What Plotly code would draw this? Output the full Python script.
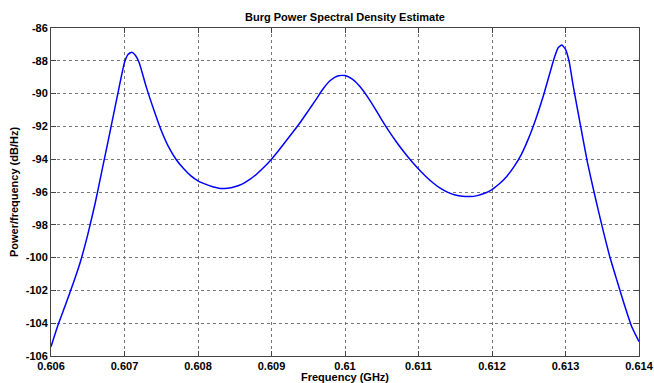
import plotly.graph_objects as go

freq_ghz = [0.6060, 0.6061, 0.6062, 0.6063, 0.6064, 0.6065, 0.6066, 0.6067, 0.6068, 0.6069,
            0.6070, 0.60705, 0.6071, 0.60715, 0.6072, 0.6073, 0.6074, 0.6075, 0.6076, 0.6077,
            0.6078, 0.6079, 0.6080, 0.6081, 0.6082, 0.6083, 0.6084, 0.6085, 0.6086, 0.6087,
            0.6088, 0.6089, 0.6090, 0.6091, 0.6092, 0.6093, 0.6094, 0.6095, 0.6096, 0.6097,
            0.6098, 0.6099, 0.6100, 0.6101, 0.6102, 0.6103, 0.6104, 0.6105, 0.6106, 0.6107,
            0.6108, 0.6109, 0.6110, 0.6111, 0.6112, 0.6113, 0.6114, 0.6115, 0.6116, 0.6117,
            0.6118, 0.6119, 0.6120, 0.6121, 0.6122, 0.6123, 0.6124, 0.6125, 0.6126, 0.6127,
            0.6128, 0.61285, 0.6129, 0.61295, 0.6130, 0.61305, 0.6131, 0.6132, 0.6133, 0.6134,
            0.6135, 0.6136, 0.6137, 0.6138, 0.6139, 0.6140]
psd_db = [-105.43, -104.05, -102.85, -101.6, -100.25, -98.6, -96.7, -94.55, -92.4, -90.2,
          -88.1, -87.6, -87.48, -87.68, -88.12, -89.65, -91.0, -92.25, -93.25, -94.0,
          -94.55, -95.0, -95.32, -95.52, -95.68, -95.78, -95.77, -95.68, -95.52, -95.25,
          -94.9, -94.48, -94.0, -93.45, -92.88, -92.3, -91.7, -91.05, -90.4, -89.72,
          -89.2, -88.93, -88.9, -89.12, -89.55, -90.15, -90.85, -91.6, -92.3, -92.95,
          -93.55, -94.1, -94.6, -95.05, -95.45, -95.78, -96.02, -96.18, -96.26, -96.28,
          -96.22, -96.08, -95.85, -95.5, -95.05, -94.45, -93.7, -92.7, -91.5, -90.12,
          -88.55, -87.78, -87.2, -87.04, -87.3, -88.05, -89.4, -91.85, -94.23, -96.23,
          -98.13, -99.9, -101.4, -102.86, -104.2, -105.12]

x_ticks = [0.606, 0.607, 0.608, 0.609, 0.610, 0.611, 0.612, 0.613, 0.614]
x_tick_labels = ["0.606", "0.607", "0.608", "0.609", "0.61", "0.611", "0.612", "0.613", "0.614"]
y_ticks = list(range(-106, -85, 2))
y_tick_labels = [str(v) for v in y_ticks]

FONT = "Liberation Sans"

fig = go.Figure()
fig.add_trace(go.Scatter(x=freq_ghz, y=psd_db, mode="lines",
                         line=dict(color="#0000ff", width=1.5, shape="spline", smoothing=0.5),
                         showlegend=False))

axis_common = dict(showline=True, linecolor="#444444", linewidth=1, mirror="ticks",
                   ticks="inside", ticklen=5, tickcolor="#444444",
                   showgrid=True, gridcolor="#777777", griddash="dot", gridwidth=1,
                   zeroline=False, automargin=False,
                   tickfont=dict(family=FONT, size=11, color="black", weight="bold"))

fig.update_xaxes(range=[0.606, 0.614], tickvals=x_ticks, ticktext=x_tick_labels,
                 title=dict(text="Frequency (GHz)", standoff=2,
                            font=dict(family=FONT, size=11, color="black", weight="bold")),
                 **axis_common)
fig.update_yaxes(range=[-106, -86], tickvals=y_ticks, ticktext=y_tick_labels,
                 title=dict(text="Power/frequency (dB/Hz)", standoff=4,
                            font=dict(family=FONT, size=11, color="black", weight="bold")),
                 **axis_common)

fig.update_layout(
    width=654, height=383,
    margin=dict(l=51, r=15, t=28, b=27),
    paper_bgcolor="white", plot_bgcolor="white",
    title=dict(text="Burg Power Spectral Density Estimate", x=0.5, xref="paper",
               y=1 - 17 / 383, yref="container", yanchor="middle",
               font=dict(family=FONT, size=11, color="black", weight="bold")),
)

fig.write_html("out.html")
